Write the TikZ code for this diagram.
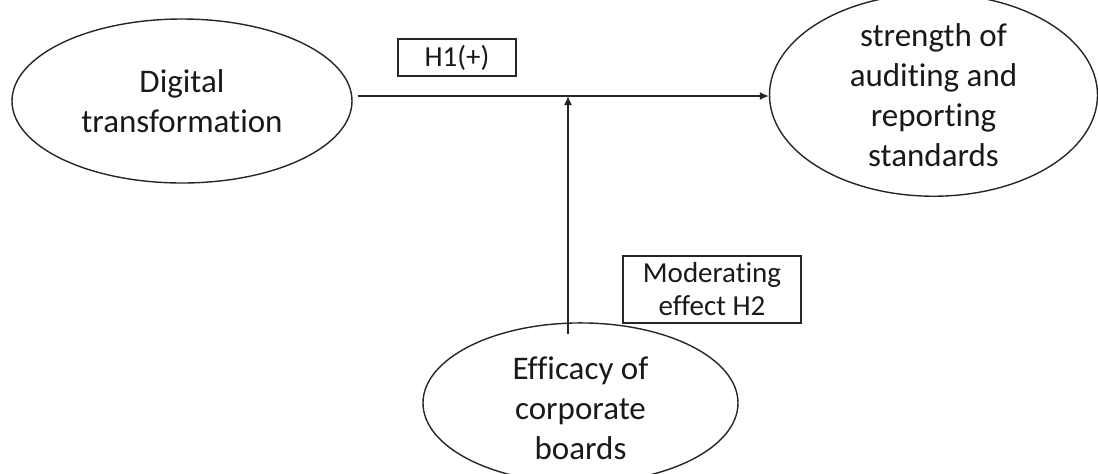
\documentclass[tikz,border=0pt]{standalone}
\usepackage{fontspec}
\setmainfont{Carlito}[Ligatures={NoCommon,NoContextual}]
\usetikzlibrary{shapes.geometric,arrows.meta}
\begin{document}
\begin{tikzpicture}[x=0.5pt,y=-0.5pt,
  oval/.style={draw=black!85,line width=0.7pt,ellipse,inner sep=0pt,align=center,
    font=\fontsize{16.5}{20}\selectfont,text=black!90},
  lbl/.style={draw=black!85,line width=0.7pt,rectangle,inner sep=0pt,align=center,
    font=\fontsize{14.5}{16.5}\selectfont,text=black!90},
  conn/.style={draw=black!85,line width=0.7pt,-{Latex[length=4.5pt,width=4pt]}}]
\useasboundingbox (0,0) rectangle (1098,473);
\node[oval,minimum width=170pt,minimum height=82pt] (dt) at (182,101) {Digital\\transformation};
\node[oval,minimum width=164pt,minimum height=88pt] (sa) at (933.5,95) {strength of\\auditing and\\reporting\\standards};
\node[oval,minimum width=157.5pt,minimum height=70pt] (eb) at (580.5,403) {\rule{0pt}{16.5pt}Efficacy of\\corporate\\boards};
\node[lbl,minimum width=59pt,minimum height=18.5pt] (h1) at (457,57.5) {H1(+)};
\node[lbl,minimum width=89pt,minimum height=33.5pt] (h2) at (712,289.5) {Moderating\\effect H2};
\coordinate (m) at (568,96);
\draw[conn] ([xshift=2.5pt]dt.east |- m) -- (sa.west |- m);
\draw[conn] (m |- 0,333.5) -- (m);
\end{tikzpicture}
\end{document}
